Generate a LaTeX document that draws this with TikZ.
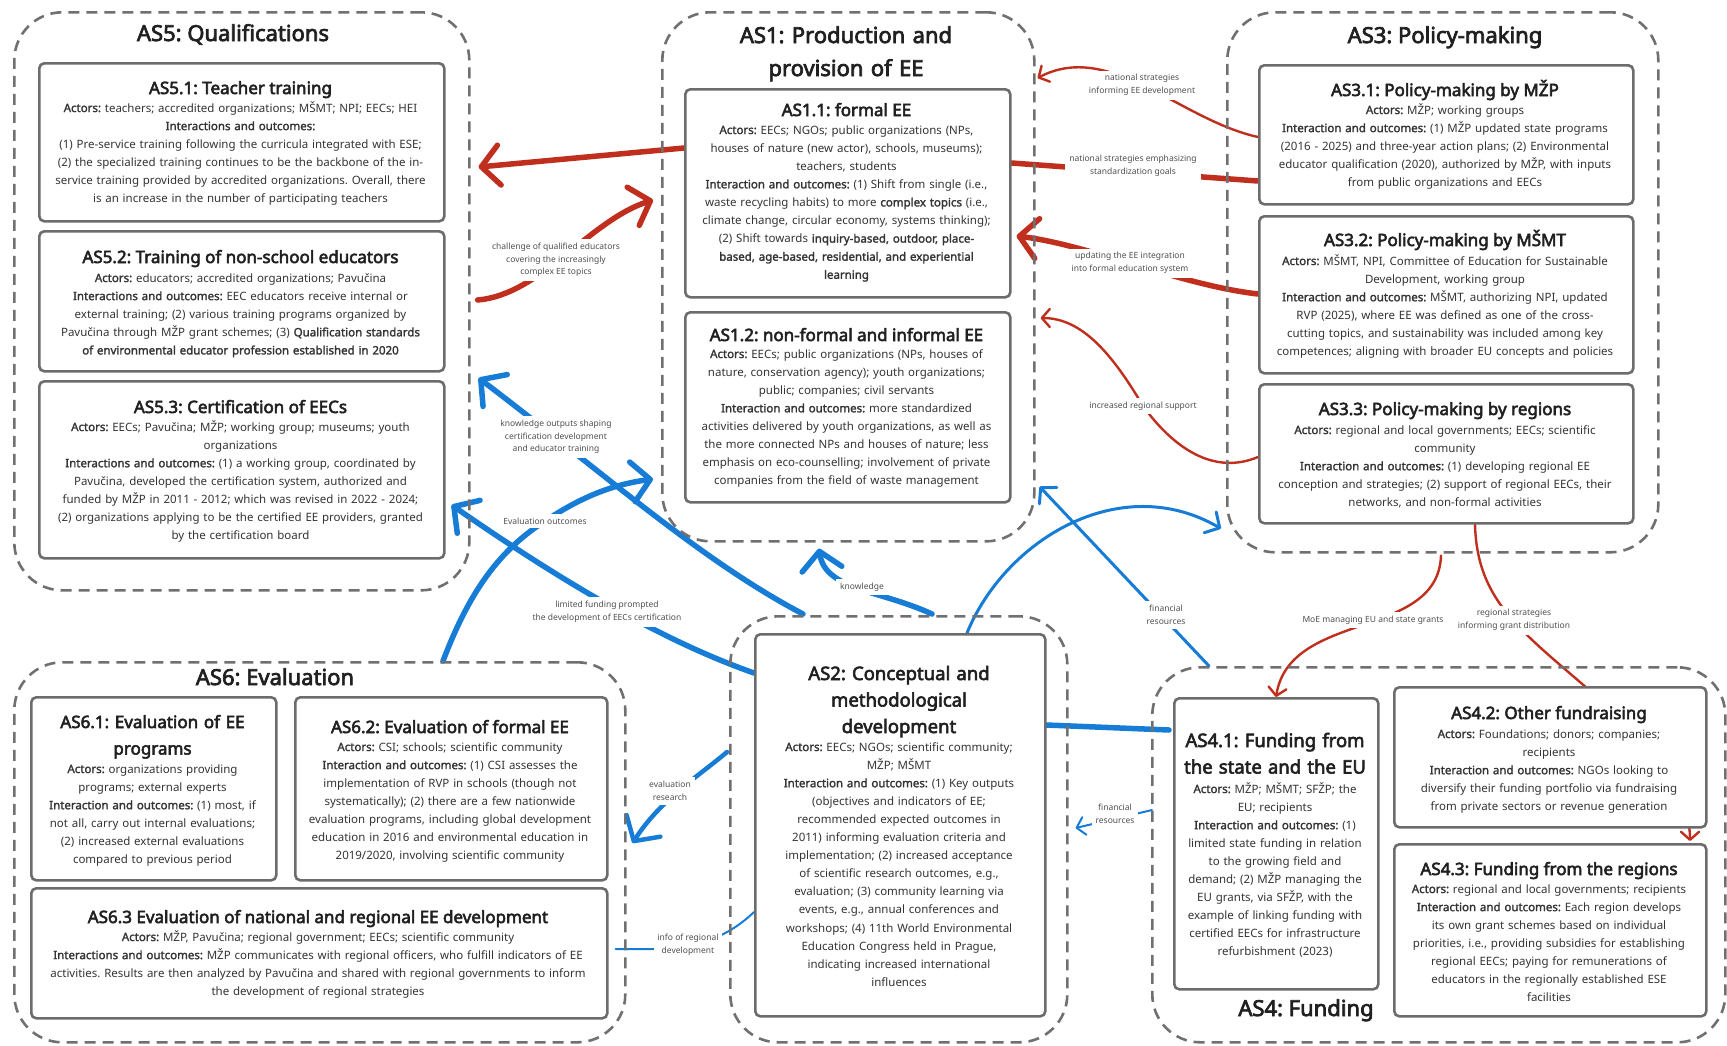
\documentclass[tikz,border=0pt]{standalone}
\usepackage{fontspec}
\setmainfont{Noto Sans}[AutoFakeBold=1.9]
\newfontfamily\headfont{Noto Sans}[FakeBold=3.2]
\usetikzlibrary{arrows.meta,calc}
\definecolor{redc}{RGB}{192,46,30}
\definecolor{bluec}{RGB}{22,124,214}
\definecolor{boxgray}{RGB}{108,108,108}
\definecolor{dashgray}{RGB}{112,112,112}
\definecolor{ink}{RGB}{32,32,32}
\definecolor{bodyink}{RGB}{52,52,52}
\definecolor{lblink}{RGB}{80,80,80}
\pgfdeclarelayer{links}
\pgfsetlayers{links,main}
\frenchspacing
\tikzset{
  grp/.style={draw=dashgray, line width=2.6pt, dash pattern=on 11pt off 7pt,
    rounded corners=48pt, inner sep=0pt, anchor=north west},
  box/.style={draw=boxgray, line width=2.6pt, rounded corners=5pt, fill=white,
    inner sep=0pt, anchor=north west},
  gttl/.style={font=\headfont\fontsize{22}{33}\selectfont, text=ink, anchor=base,
    align=center, inner sep=0pt},
  ttl/.style={font=\headfont\fontsize{17}{26.5}\selectfont, text=ink, anchor=base,
    align=center, inner sep=0pt},
  bigttl/.style={font=\headfont\fontsize{18.5}{26.5}\selectfont, text=ink, anchor=base,
    align=center, inner sep=0pt},
  body/.style={font=\fontsize{11.5}{18.1}\selectfont\frenchspacing, text=bodyink, anchor=base,
    align=center, inner sep=0pt},
  lbl/.style={font=\fontsize{8.5}{12.5}\selectfont, text=lblink, align=center,
    fill=white, inner sep=4pt},
  redthick/.style={draw=redc, line width=5.5pt, line cap=round},
  redthin/.style={draw=redc, line width=2.4pt, line cap=round},
  bluethick/.style={draw=bluec, line width=5.5pt, line cap=round},
  bluemid/.style={draw=bluec, line width=3pt, line cap=round},
  bluethin/.style={draw=bluec, line width=2pt, line cap=round},
  bigtip/.style={-{Straight Barb[round,length=18pt,width=40pt]}},
  midtip/.style={-{Straight Barb[round,length=11pt,width=24pt]}},
  smalltip/.style={-{Straight Barb[round,length=8pt,width=18pt]}},
}
\begin{document}
\begin{tikzpicture}[x=1pt,y=-1pt]
\useasboundingbox (0,0) rectangle (1727,1045);

% ---------- action situations (dashed frames) ----------
\node[grp, minimum width=455pt, minimum height=578pt] (g5) at (13,11) {};
\node[grp, minimum width=372pt, minimum height=529pt] (g1) at (661,11) {};
\node[grp, minimum width=431pt, minimum height=540pt] (g3) at (1226,11) {};
\node[grp, minimum width=611pt, minimum height=380pt] (g6) at (13,661) {};
\node[grp, minimum width=337pt, minimum height=426pt] (g2) at (729,615) {};
\node[grp, minimum width=573pt, minimum height=375pt] (g4) at (1151,666) {};

% ---------- inner boxes ----------
\node[box, minimum width=405pt, minimum height=158pt] (b51) at (38,62) {};
\node[box, minimum width=405pt, minimum height=140pt] (b52) at (38,230) {};
\node[box, minimum width=405pt, minimum height=177pt] (b53) at (38,380) {};
\node[box, minimum width=325pt, minimum height=208pt] (b11) at (684,88) {};
\node[box, minimum width=325pt, minimum height=190pt] (b12) at (684,311) {};
\node[box, minimum width=374pt, minimum height=139pt] (b31) at (1258,64) {};
\node[box, minimum width=374pt, minimum height=157pt] (b32) at (1258,215) {};
\node[box, minimum width=374pt, minimum height=139pt] (b33) at (1258,383) {};
\node[box, minimum width=245pt, minimum height=183pt] (b61) at (30,696) {};
\node[box, minimum width=312pt, minimum height=183pt] (b62) at (294,696) {};
\node[box, minimum width=576pt, minimum height=130pt] (b63) at (30,887) {};
\node[box, minimum width=290pt, minimum height=382pt] (b2) at (754,633) {};
\node[box, minimum width=204pt, minimum height=291pt] (b41) at (1173,697) {};
\node[box, minimum width=312pt, minimum height=140pt] (b42) at (1393,686) {};
\node[box, minimum width=312pt, minimum height=172pt] (b43) at (1393,843) {};

% ---------- frame titles ----------
\node[gttl] (tg5) at (233,41) {AS5: Qualifications};
\node[gttl, text width=360pt] (tg1) at (846,43) {AS1: Production and\\provision of EE};
\node[gttl] (tg3) at (1445,43) {AS3: Policy-making};
\node[gttl] (tg6) at (275,685) {AS6: Evaluation};
\node[gttl] (tg4) at (1306,1016) {AS4: Funding};

% ---------- AS5 ----------
\node[ttl] (t51) at (240.5,94) {AS5.1: Teacher training};
\node[body, text width=398pt] (d51) at (240.5,112) {\textbf{Actors:} teachers; accredited organizations; MŠMT; NPI; EECs; HEI\\
\textbf{Interactions and outcomes:}\\
(1) Pre-service training following the curricula integrated with ESE;\\
(2) the specialized training continues to be the backbone of the in-\\
service training provided by accredited organizations. Overall, there\\
is an increase in the number of participating teachers};

\node[ttl] (t52) at (240.5,263) {AS5.2: Training of non-school educators};
\node[body, text width=398pt] (d52) at (240.5,282) {\textbf{Actors:} educators; accredited organizations; Pavučina\\
\textbf{Interactions and outcomes:} EEC educators receive internal or\\
external training; (2) various training programs organized by\\
Pavučina through MŽP grant schemes; (3) \textbf{Qualification standards}\\
\textbf{of environmental educator profession established in 2020}};

\node[ttl] (t53) at (240.5,413) {AS5.3: Certification of EECs};
\node[body, text width=398pt] (d53) at (240.5,431) {\textbf{Actors:} EECs; Pavučina; MŽP; working group; museums; youth\\
organizations\\
\textbf{Interactions and outcomes:} (1) a working group, coordinated by\\
Pavučina, developed the certification system, authorized and\\
funded by MŽP in 2011 - 2012; which was revised in 2022 - 2024;\\
(2) organizations applying to be the certified EE providers, granted\\
by the certification board};

% ---------- AS1 ----------
\node[ttl] (t11) at (846.5,116) {AS1.1: formal EE};
\node[body, text width=318pt] (d11) at (846.5,134) {\textbf{Actors:} EECs; NGOs; public organizations (NPs,\\
houses of nature (new actor), schools, museums);\\
teachers, students\\
\textbf{Interaction and outcomes:} (1) Shift from single (i.e.,\\
waste recycling habits) to more \textbf{complex topics} (i.e.,\\
climate change, circular economy, systems thinking);\\
(2) Shift towards \textbf{inquiry-based, outdoor, place-}\\
\textbf{based, age-based, residential, and experiential}\\
\textbf{learning}};

\node[ttl] (t12) at (846.5,341) {AS1.2: non-formal and informal EE};
\node[body, text width=318pt] (d12) at (846.5,358) {\textbf{Actors:} EECs; public organizations (NPs, houses of\\
nature, conservation agency); youth organizations;\\
public; companies; civil servants\\
\textbf{Interaction and outcomes:} more standardized\\
activities delivered by youth organizations, as well as\\
the more connected NPs and houses of nature; less\\
emphasis on eco-counselling; involvement of private\\
companies from the field of waste management};

% ---------- AS3 ----------
\node[ttl] (t31) at (1445,96) {AS3.1: Policy-making by MŽP};
\node[body, text width=367pt] (d31) at (1445,114) {\textbf{Actors:} MŽP; working groups\\
\textbf{Interaction and outcomes:} (1) MŽP updated state programs\\
(2016 - 2025) and three-year action plans; (2) Environmental\\
educator qualification (2020), authorized by MŽP, with inputs\\
from public organizations and EECs};

\node[ttl] (t32) at (1445,246) {AS3.2: Policy-making by MŠMT};
\node[body, text width=367pt] (d32) at (1445,265) {\textbf{Actors:} MŠMT, NPI, Committee of Education for Sustainable\\
Development, working group\\
\textbf{Interaction and outcomes:} MŠMT, authorizing NPI, updated\\
RVP (2025), where EE was defined as one of the cross-\\
cutting topics, and sustainability was included among key\\
competences; aligning with broader EU concepts and policies};

\node[ttl] (t33) at (1445,415) {AS3.3: Policy-making by regions};
\node[body, text width=367pt] (d33) at (1445,434) {\textbf{Actors:} regional and local governments; EECs; scientific\\
community\\
\textbf{Interaction and outcomes:} (1) developing regional EE\\
conception and strategies; (2) support of regional EECs, their\\
networks, and non-formal activities};

% ---------- AS6 ----------
\node[ttl, text width=238pt] (t61) at (152.5,728) {AS6.1: Evaluation of EE\\programs};
\node[body, text width=238pt] (d61) at (152.5,773) {\textbf{Actors:} organizations providing\\
programs; external experts\\
\textbf{Interaction and outcomes:} (1) most, if\\
not all, carry out internal evaluations;\\
(2) increased external evaluations\\
compared to previous period};

\node[ttl] (t62) at (450,733) {AS6.2: Evaluation of formal EE};
\node[body, text width=305pt] (d62) at (450,751) {\textbf{Actors:} CSI; schools; scientific community\\
\textbf{Interaction and outcomes:} (1) CSI assesses the\\
implementation of RVP in schools (though not\\
systematically); (2) there are a few nationwide\\
evaluation programs, including global development\\
education in 2016 and environmental education in\\
2019/2020, involving scientific community};

\node[ttl] (t63) at (318,923) {AS6.3 Evaluation of national and regional EE development};
\node[body, text width=570pt] (d63) at (318,941) {\textbf{Actors:} MŽP, Pavučina; regional government; EECs; scientific community\\
\textbf{Interactions and outcomes:} MŽP communicates with regional officers, who fulfill indicators of EE\\
activities. Results are then analyzed by Pavučina and shared with regional governments to inform\\
the development of regional strategies};

% ---------- AS2 ----------
\node[bigttl, text width=284pt] (t2) at (899,680) {AS2: Conceptual and\\methodological\\development};
\node[body, text width=284pt] (d2) at (899,751) {\textbf{Actors:} EECs; NGOs; scientific community;\\
MŽP; MŠMT\\
\textbf{Interaction and outcomes:} (1) Key outputs\\
(objectives and indicators of EE;\\
recommended expected outcomes in\\
2011) informing evaluation criteria and\\
implementation; (2) increased acceptance\\
of scientific research outcomes, e.g.,\\
evaluation; (3) community learning via\\
events, e.g., annual conferences and\\
workshops; (4) 11th World Environmental\\
Education Congress held in Prague,\\
indicating increased international\\
influences};

% ---------- AS4 ----------
\node[bigttl, text width=200pt] (t41) at (1275,747) {AS4.1: Funding from\\the state and the EU};
\node[body, text width=200pt] (d41) at (1275,793) {\textbf{Actors:} MŽP; MŠMT; SFŽP; the\\
EU; recipients\\
\textbf{Interaction and outcomes:} (1)\\
limited state funding in relation\\
to the growing field and\\
demand; (2) MŽP managing the\\
EU grants, via SFŽP, with the\\
example of linking funding with\\
certified EECs for infrastructure\\
refurbishment (2023)};

\node[ttl] (t42) at (1549,719) {AS4.2: Other fundraising};
\node[body, text width=305pt] (d42) at (1549,738) {\textbf{Actors:} Foundations; donors; companies;\\
recipients\\
\textbf{Interaction and outcomes:} NGOs looking to\\
diversify their funding portfolio via fundraising\\
from private sectors or revenue generation};

\node[ttl] (t43) at (1549,875) {AS4.3: Funding from the regions};
\node[body, text width=308pt] (d43) at (1549,893) {\textbf{Actors:} regional and local governments; recipients\\
\textbf{Interaction and outcomes:} Each region develops\\
its own grant schemes based on individual\\
priorities, i.e., providing subsidies for establishing\\
regional EECs; paying for remunerations of\\
educators in the regionally established ESE\\
facilities};

% ---------- connectors ----------
\begin{pgfonlayer}{links}
% policy and qualification links (red)
\draw[redthick,bigtip] ($(b11.north west)+(0,60)$) -- ($(g5.north east)+(8,156)$);
\draw[redthick,bigtip] ($(g5.north east)+(7,289)$) .. controls (540,295) and (590,220) .. ($(g1.north west)+(-8,189)$);
\node[lbl] (l1) at (556,260) {challenge of qualified educators\\covering the increasingly\\complex EE topics};

\draw[redthin,smalltip] ($(b31.north west)+(0,73)$) .. controls (1180,120) and (1110,40) .. ($(g1.north east)+(2,67)$);
\node[lbl] (l2) at (1142,85) {national strategies\\informing EE development};

\draw[redthick] ($(b11.north east)+(0,75)$) -- ($(b31.north west)+(0,117)$);
\node[lbl] (l3) at (1133,166) {national strategies emphasizing\\standardization goals};

\draw[redthick,bigtip] ($(b32.north west)+(0,79)$) .. controls (1180,285) and (1090,245) .. ($(b11.north east)+(5,148)$);
\node[lbl] (l4) at (1130,263) {updating the EE integration\\into formal education system};

\draw[redthin,smalltip] ($(b33.north west)+(0,74)$) .. controls (1215,475) and (1175,450) .. (1143,406)
  .. controls (1110,350) and (1080,318) .. ($(g1.north east)+(5,307)$);
\node[lbl] (l5) at (1143,406) {increased regional support};

\draw[redthin,smalltip] ($(g3.south west)+(215,2)$) .. controls (1438,640) and (1290,610) .. ($(b41.north west)+(103,0)$);
\node[lbl] (l6) at (1373,620) {MoE managing EU and state grants};

\draw[redthin,smalltip] ($(b33.south west)+(217,0)$) .. controls (1477,600) and (1520,630) .. (1588,689)
  .. controls (1660,750) and (1690,800) .. ($(b43.north west)+(297,-2)$);
\node[lbl] (l7) at (1514,620) {regional strategies\\informing grant distribution};

% knowledge, evaluation and funding links (blue)
\draw[bluethick,bigtip] ($(g2.north west)+(203,-1)$) .. controls (880,590) and (825,590) .. ($(g1.south west)+(158,6)$);
\node[lbl] (l8) at (862,587) {knowledge};

\draw[bluethick,bigtip] ($(b2.north west)+(0,40)$) .. controls (660,640) and (560,580) .. ($(b53.north east)+(6,125)$);
\node[lbl] (l9) at (607,612) {limited funding prompted\\the development of EECs certification};

\draw[bluethick,bigtip] ($(g2.north west)+(74,-1)$) .. controls (700,560) and (600,470) .. ($(g5.north east)+(8,367)$);
\node[lbl] (l10) at (556,437) {knowledge outputs shaping\\certification development\\and educator training};

\draw[bluethick,bigtip] ($(g6.north west)+(430,0)$) .. controls (470,590) and (500,550) .. (545,521)
  .. controls (580,498) and (610,485) .. ($(g1.north west)+(-8,468)$);
\node[lbl] (l11) at (545,521) {Evaluation outcomes};

\draw[bluemid,midtip] ($(b2.north west)+(213,0)$) .. controls (1005,540) and (1120,470) .. ($(g3.south west)+(-5,-25)$);

\draw[bluemid,midtip] ($(g4.north west)+(58,0)$) -- ($(g1.south east)+(4,-56)$);
\node[lbl] (l12) at (1166,615) {financial\\resources};

\draw[bluethick] ($(b2.north east)+(0,92)$) -- ($(b41.north west)+(-4,33)$);

\draw[bluethin,smalltip] ($(g4.north west)+(1,144)$) -- ($(g2.north east)+(7,213)$);
\node[lbl] (l13) at (1115,814) {financial\\resources};

\draw[bluethick,line width=4.5pt,bigtip] ($(g2.north west)+(-2,137)$) .. controls (700,775) and (660,800) .. ($(b62.north east)+(24,147)$);
\node[lbl] (l14) at (670,791) {evaluation\\research};

\draw[bluethin] ($(b2.north west)+(0,279)$) .. controls (730,935) and (700,948) .. (660,949) -- ($(b63.north east)+(7,62)$);
\node[lbl] (l15) at (688,945) {info of regional\\development};
\end{pgfonlayer}
\end{tikzpicture}
\end{document}
